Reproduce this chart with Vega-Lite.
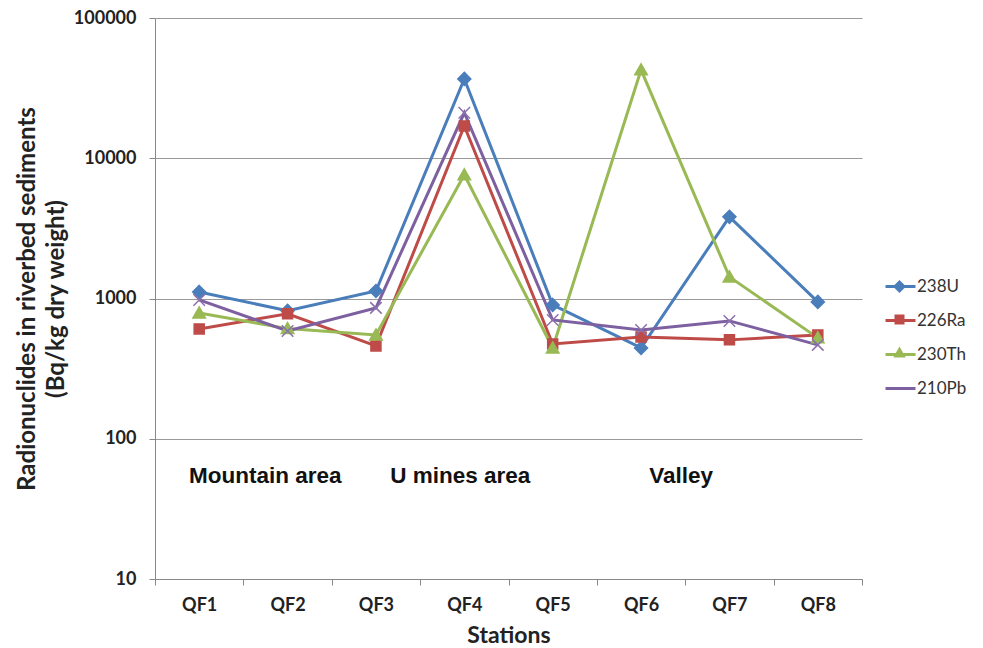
{
  "$schema": "https://vega.github.io/schema/vega-lite/v6.json",
  "autosize": {"type": "none"},
  "padding": {"left": 155, "top": 18, "right": 121, "bottom": 69},
  "width": 707,
  "height": 561,
  "background": "white",
  "config": {"view": {"stroke": null}, "font": "Lato"},
  "resolve": {"legend": {"color": "independent", "shape": "independent"}},
  "data": {"values": [
    {"station": "QF1", "series": "238U", "value": 1114},
    {"station": "QF2", "series": "238U", "value": 817},
    {"station": "QF3", "series": "238U", "value": 1130},
    {"station": "QF4", "series": "238U", "value": 36800},
    {"station": "QF5", "series": "238U", "value": 900},
    {"station": "QF6", "series": "238U", "value": 444},
    {"station": "QF7", "series": "238U", "value": 3820},
    {"station": "QF8", "series": "238U", "value": 946},
    {"station": "QF1", "series": "226Ra", "value": 607},
    {"station": "QF2", "series": "226Ra", "value": 777},
    {"station": "QF3", "series": "226Ra", "value": 459},
    {"station": "QF4", "series": "226Ra", "value": 17000},
    {"station": "QF5", "series": "226Ra", "value": 474},
    {"station": "QF6", "series": "226Ra", "value": 532},
    {"station": "QF7", "series": "226Ra", "value": 507},
    {"station": "QF8", "series": "226Ra", "value": 550},
    {"station": "QF1", "series": "230Th", "value": 789},
    {"station": "QF2", "series": "230Th", "value": 610},
    {"station": "QF3", "series": "230Th", "value": 550},
    {"station": "QF4", "series": "230Th", "value": 7620},
    {"station": "QF5", "series": "230Th", "value": 444},
    {"station": "QF6", "series": "230Th", "value": 42700},
    {"station": "QF7", "series": "230Th", "value": 1426},
    {"station": "QF8", "series": "230Th", "value": 524},
    {"station": "QF1", "series": "210Pb", "value": 977},
    {"station": "QF2", "series": "210Pb", "value": 587},
    {"station": "QF3", "series": "210Pb", "value": 857},
    {"station": "QF4", "series": "210Pb", "value": 21100},
    {"station": "QF5", "series": "210Pb", "value": 703},
    {"station": "QF6", "series": "210Pb", "value": 597},
    {"station": "QF7", "series": "210Pb", "value": 692},
    {"station": "QF8", "series": "210Pb", "value": 467}
  ]},
  "encoding": {
    "x": {
      "field": "station", "type": "nominal",
      "scale": {"type": "band", "paddingInner": 0, "paddingOuter": 0},
      "axis": {
        "title": "Stations", "titleFontSize": 23, "titleFontWeight": "bold", "titleColor": "#222", "titlePadding": 10,
        "labelAngle": 0, "labelFontSize": 18, "labelFontWeight": "bold", "labelColor": "#222", "labelPadding": 11,
        "tickBand": "extent", "tickSize": 6, "tickColor": "#888", "domainColor": "#888", "grid": false
      }
    },
    "y": {
      "field": "value", "type": "quantitative",
      "scale": {"type": "log", "domain": [10, 100000], "nice": false},
      "axis": {
        "title": ["Radionuclides in riverbed sediments", "(Bq/kg dry weight)"],
        "titleFontSize": 24, "titleFontWeight": "bold", "titleColor": "#222", "titlePadding": 5, "titleLineHeight": 29,
        "values": [10, 100, 1000, 10000, 100000], "format": "d",
        "labelFontSize": 18, "labelFontWeight": "bold", "labelColor": "#222", "labelPadding": 13,
        "tickSize": 6, "tickColor": "#888", "domainColor": "#888",
        "grid": true, "gridColor": "#999", "gridWidth": 1
      }
    }
  },
  "layer": [
    {
      "mark": {"type": "line", "strokeWidth": 3},
      "encoding": {
        "color": {
          "field": "series", "type": "nominal",
          "scale": {"domain": ["238U", "226Ra", "230Th", "210Pb"], "range": ["#4A7EBB", "#BE4B48", "#98B954", "#7D60A0"]},
          "legend": {
            "orient": "none", "legendX": 729, "legendY": 252, "title": null, "zindex": 0,
            "symbolType": "stroke", "symbolSize": 900, "symbolStrokeWidth": 3,
            "labelFontSize": 17, "labelFont": "Lato", "labelColor": "#333", "labelOffset": 0,
            "rowPadding": 9
          }
        }
      }
    },
    {
      "mark": {"type": "point", "filled": true, "size": 100, "strokeWidth": 1.5, "opacity": 1},
      "encoding": {
        "color": {
          "field": "series", "type": "nominal",
          "legend": {
            "orient": "none", "legendX": 736, "legendY": 260, "title": null, "zindex": 1,
            "symbolSize": 100, "labelFontSize": 17, "labelFont": "Lato", "labelOpacity": 0, "labelExpr": "''",
            "rowPadding": 15
          }
        },
        "stroke": {
          "field": "series", "type": "nominal", "legend": null,
          "scale": {"domain": ["238U", "226Ra", "230Th", "210Pb"], "range": ["#4A7EBB", "#BE4B48", "#98B954", "#8A70AE"]}
        },
        "shape": {
          "field": "series", "type": "nominal", "legend": null,
          "scale": {"domain": ["238U", "226Ra", "230Th", "210Pb"], "range": ["M0,-1.3L1.3,0L0,1.3L-1.3,0Z", "square", "M0,-1.2L1.25,1L-1.25,1Z", "M-1.15,-1.15L1.15,1.15M-1.15,1.15L1.15,-1.15"]}
        }
      }
    },
    {
      "data": {"values": [{"label": "Mountain area", "station": "QF1", "value": 54}]},
      "mark": {"type": "text", "font": "Liberation Sans", "fontWeight": "bold", "fontSize": 22.5, "align": "center", "baseline": "middle", "dx": 66, "color": "#111"},
      "encoding": {"text": {"field": "label"}}
    },
    {
      "data": {"values": [{"label": "U mines area", "station": "QF4", "value": 54}]},
      "mark": {"type": "text", "font": "Liberation Sans", "fontWeight": "bold", "fontSize": 22.5, "align": "center", "baseline": "middle", "dx": -4, "color": "#111"},
      "encoding": {"text": {"field": "label"}}
    },
    {
      "data": {"values": [{"label": "Valley", "station": "QF6", "value": 54}]},
      "mark": {"type": "text", "font": "Liberation Sans", "fontWeight": "bold", "fontSize": 22.5, "align": "center", "baseline": "middle", "dx": 40, "color": "#111"},
      "encoding": {"text": {"field": "label"}}
    }
  ]
}
